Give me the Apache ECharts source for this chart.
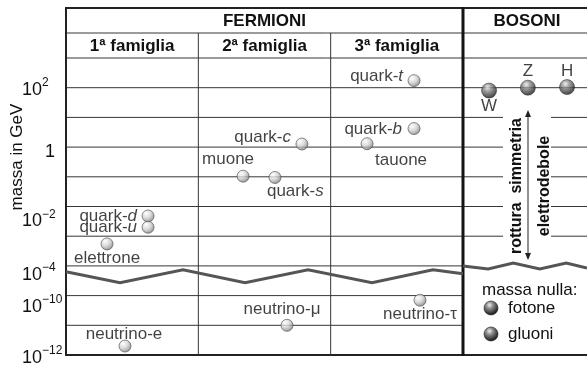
<!DOCTYPE html>
<html>
<head>
<meta charset="utf-8">
<script src="https://cdn.jsdelivr.net/npm/echarts@6/dist/echarts.min.js"></script>
<style>
  html, body { margin: 0; padding: 0; background: #fff; }
  #c { width: 587px; height: 367px; }
</style>
</head>
<body>
<div id="c"></div>
<script>
// Masse delle particelle del Modello Standard (GeV)
const fermioniNomi    = ['quark-t', 'quark-b', 'tauone', 'quark-c', 'muone', 'quark-s', 'quark-d', 'quark-u', 'elettrone', 'neutrino-e', 'neutrino-μ', 'neutrino-τ'];
const fermioniMassa   = [173, 4.2, 1.3, 1.27, 0.105, 0.095, 0.0048, 0.002, 0.00055, 2e-12, 1e-11, 7e-11];
// posizione orizzontale in unità di colonna (0-1: 1ª famiglia, 1-2: 2ª, 2-3: 3ª, 3-: bosoni)
const fermioniColonna = [2.63, 2.63, 2.275, 1.783, 1.338, 1.579, 0.62, 0.62, 0.31, 0.446, 1.67, 2.675];

const bosoniNomi    = ['W', 'Z', 'H'];
const bosoniMassa   = [80, 100, 105];
const bosoniColonna = [3.197, 3.49, 3.786];

const bosoniNulli = ['fotone', 'gluoni'];

const famiglie = ['1ª famiglia', '2ª famiglia', '3ª famiglia'];

// tacche dell'asse (valore sull'asse compresso -> esponente della potenza di 10)
const tickValori    = [2, 0, -2, -4, -5, -7];
const tickEsponenti = ['2', '', '−2', '−4', '−10', '−12'];
// scostamento verticale di ogni etichetta di tacca (px)
const tickScarto    = [0, 3, 13, 7, 9, 1];

// asse logaritmico con taglio tra 10^-10 e 10^-4
function asse(m) {
  const l = Math.log10(m);
  return l >= -4 ? l : l + 5;
}

const FONT = "'Liberation Sans', Arial, Helvetica, sans-serif";
const TXT = '#111111';
const LINEA = '#363636';
const FS = 17;

const sferaChiara = new echarts.graphic.RadialGradient(0.35, 0.3, 0.8, [
  { offset: 0, color: '#ffffff' },
  { offset: 0.45, color: '#d2d2d2' },
  { offset: 1, color: '#6a6a6a' }
]);
const sferaScura = new echarts.graphic.RadialGradient(0.4, 0.3, 0.8, [
  { offset: 0, color: '#eeeeee' },
  { offset: 0.3, color: '#8c8c8c' },
  { offset: 0.75, color: '#2c2c2c' },
  { offset: 1, color: '#0e0e0e' }
]);

// disposizione delle etichette rispetto al centro della sfera
const etichette = {
  'quark-t':    { align: 'right',  offset: [-11, -4] },
  'quark-b':    { align: 'right',  offset: [-12, 1] },
  'tauone':     { align: 'left',   offset: [8, 17] },
  'quark-c':    { align: 'right',  offset: [-11, -7] },
  'muone':      { align: 'center', offset: [-15, -17] },
  'quark-s':    { align: 'left',   offset: [-8, 14] },
  'quark-d':    { align: 'right',  offset: [-11, 0] },
  'quark-u':    { align: 'right',  offset: [-11, 0] },
  'elettrone':  { align: 'center', offset: [0, 14] },
  'neutrino-e': { align: 'center', offset: [-1, -12] },
  'neutrino-μ': { align: 'center', offset: [-5, -16] },
  'neutrino-τ': { align: 'center', offset: [0, 14] },
  'W':          { align: 'center', offset: [0, 16] },
  'Z':          { align: 'center', offset: [0, -16] },
  'H':          { align: 'center', offset: [0, -16] }
};

function testo(nome) {
  const m = nome.match(/^quark-(.)$/);
  return m ? '{n|quark-}{i|' + m[1] + '}' : '{n|' + nome + '}';
}

const richTesto = {
  n: { fontFamily: FONT, fontSize: FS, color: TXT },
  i: { fontFamily: FONT, fontSize: FS, color: TXT, fontStyle: 'italic' }
};

function punti(nomi, masse, colonne) {
  return nomi.map((n, k) => ({
    name: n,
    value: [colonne[k], asse(masse[k])],
    label: {
      show: true,
      position: 'inside',
      align: etichette[n].align,
      verticalAlign: 'middle',
      offset: etichette[n].offset,
      formatter: () => testo(n),
      rich: richTesto
    }
  }));
}

// stili rich delle tacche: base, esponente, e una riga vuota che abbassa l'etichetta
const richTacche = {
  b: { fontFamily: FONT, fontSize: 18, color: TXT, verticalAlign: 'bottom', lineHeight: 22 },
  s: { fontFamily: FONT, fontSize: 12, color: TXT, verticalAlign: 'top', lineHeight: 22 },
  u: { fontFamily: FONT, fontSize: 18, color: TXT, verticalAlign: 'bottom', lineHeight: 22, padding: [0, 0, 0, 23] }
};
tickScarto.forEach((d, k) => {
  richTacche['g' + k] = { fontSize: 1, lineHeight: 2 * d };
});

const XMAX = 3.937;

const chart = echarts.init(document.getElementById('c'), null, { renderer: 'canvas' });

chart.setOption({
  animation: false,
  backgroundColor: '#ffffff',
  grid: { left: 66, right: 0, top: 58, bottom: 9 },
  xAxis: { type: 'value', min: 0, max: XMAX, show: false },
  yAxis: {
    type: 'value',
    min: -7,
    max: 3,
    interval: 1,
    axisLine: { show: false },
    axisTick: { show: false },
    splitLine: { show: false },
    axisLabel: {
      show: true,
      align: 'left',
      margin: 44,
      formatter: (v) => {
        const k = tickValori.indexOf(v);
        if (k < 0) return '';
        const riga = tickEsponenti[k]
          ? '{b|10}{s|' + tickEsponenti[k] + '}'
          : '{u|1}';
        return tickScarto[k] > 0 ? '{g' + k + '| }\n' + riga : riga;
      },
      rich: richTacche
    }
  },
  series: [
    {
      name: 'fermioni',
      type: 'scatter',
      symbol: 'circle',
      symbolSize: 12,
      itemStyle: { color: sferaChiara, borderColor: '#4a4a4a', borderWidth: 0.8 },
      data: punti(fermioniNomi, fermioniMassa, fermioniColonna),
      z: 5
    },
    {
      name: 'bosoni',
      type: 'scatter',
      symbol: 'circle',
      symbolSize: 15,
      itemStyle: { color: sferaScura, borderColor: '#1a1a1a', borderWidth: 0.6 },
      data: punti(bosoniNomi, bosoniMassa, bosoniColonna),
      z: 5
    }
  ]
});

// --- struttura della tabella, riportata in pixel tramite le scale degli assi ---
const px = (x, y) => chart.convertToPixel({ gridIndex: 0 }, [x, y]);
const X = (x) => px(x, 0)[0];
const Y = (y) => px(0, y)[1];

const xL = X(0), x1 = X(1), x2 = X(2), x3 = X(3), xR = 587;
const yTop = 8, yH1 = 33, yH2 = Y(3), yBot = Y(-7);

const g = [];
function linea(xa, ya, xb, yb, w, col) {
  g.push({ type: 'line', shape: { x1: xa, y1: ya, x2: xb, y2: yb },
    style: { stroke: col || LINEA, lineWidth: w || 1 }, z: 1 });
}
function scritta(x, y, t, opt) {
  g.push({ type: 'text', x: x, y: y, rotation: (opt && opt.rot) || 0, z: 3,
    style: Object.assign({ text: t, fontFamily: FONT, fontSize: FS, fill: TXT,
      align: 'center', verticalAlign: 'middle' }, opt && opt.style) });
}

// griglia orizzontale dei fermioni (una riga per decade)
for (let v = -6; v <= 2; v++) linea(xL, Y(v), x3, Y(v), 1);
// bosoni: riga 10^2 intera, le altre interrotte dalla freccia
linea(x3, Y(2), xR, Y(2), 1);
for (let v = -3; v <= 1; v++) {
  linea(x3, Y(v), 503, Y(v), 1);
  linea(551, Y(v), xR, Y(v), 1);
}
// righe d'intestazione e bordi
linea(xL, yH1, xR, yH1, 1);
linea(xL, yH2, xR, yH2, 1);
linea(xL, yTop, xR, yTop, 2, '#222');
linea(xL, yBot, xR, yBot, 2, '#222');
linea(xL, yTop - 1, xL, yBot + 1, 2, '#222');
linea(x1, yH1, x1, yBot, 1);
linea(x2, yH1, x2, yBot, 1);
linea(x3, yTop - 1, x3, yBot + 1, 3, '#141414');

// simbolo del taglio dell'asse
const zigF = [[0, -4.2], [0.408, -4.567], [0.884, -4.133], [1.353, -4.567], [1.829, -4.133], [2.312, -4.567], [2.773, -4.133], [3, -4.267]];
g.push({ type: 'polyline', z: 2, shape: { points: zigF.map(p => px(p[0], p[1])) },
  style: { stroke: '#555', lineWidth: 3, fill: null } });
const zigB = [[3, -4.0], [3.19, -4.1], [3.38, -3.9], [3.58, -4.1], [3.78, -3.9], [XMAX, -4.07]];
g.push({ type: 'polyline', z: 2, shape: { points: zigB.map(p => px(p[0], p[1])) },
  style: { stroke: '#555', lineWidth: 3, fill: null } });

// intestazioni
const bold = { style: { fontWeight: 'bold' } };
scritta((xL + x3) / 2, (yTop + yH1) / 2 + 1, 'FERMIONI', bold);
scritta((x3 + xR) / 2 + 2, (yTop + yH1) / 2 + 1, 'BOSONI', bold);
famiglie.forEach((f, k) => scritta((X(k) + X(k + 1)) / 2, (yH1 + yH2) / 2 + 1, f, bold));

// nome dell'asse
scritta(17, 157, 'massa in GeV', { rot: Math.PI / 2 });

// rottura di simmetria elettrodebole: freccia doppia e scritte verticali
const xa = 528, ya1 = 110, ya2 = 260;
linea(xa, ya1 + 4, xa, ya2 - 4, 1, '#222');
g.push({ type: 'polygon', z: 3, shape: { points: [[xa, ya1], [xa - 3, ya1 + 7], [xa + 3, ya1 + 7]] }, style: { fill: '#222' } });
g.push({ type: 'polygon', z: 3, shape: { points: [[xa, ya2], [xa - 3, ya2 - 7], [xa + 3, ya2 - 7]] }, style: { fill: '#222' } });
scritta(517, 186, 'rottura  simmetria', { rot: Math.PI / 2, style: { fontWeight: 'bold', fontSize: 16 } });
scritta(545, 186, 'elettrodebole', { rot: Math.PI / 2, style: { fontWeight: 'bold', fontSize: 16 } });

// bosoni a massa nulla
scritta(482, 290, 'massa nulla:', { style: { align: 'left' } });
bosoniNulli.forEach((n, k) => {
  const yy = 308 + k * 26;
  g.push({ type: 'circle', z: 4, shape: { cx: 491, cy: yy, r: 7 },
    style: { fill: sferaScura, stroke: '#1a1a1a', lineWidth: 0.6 } });
  scritta(508, yy, n, { style: { align: 'left' } });
});

chart.setOption({ graphic: { elements: g } });
</script>
</body>
</html>
